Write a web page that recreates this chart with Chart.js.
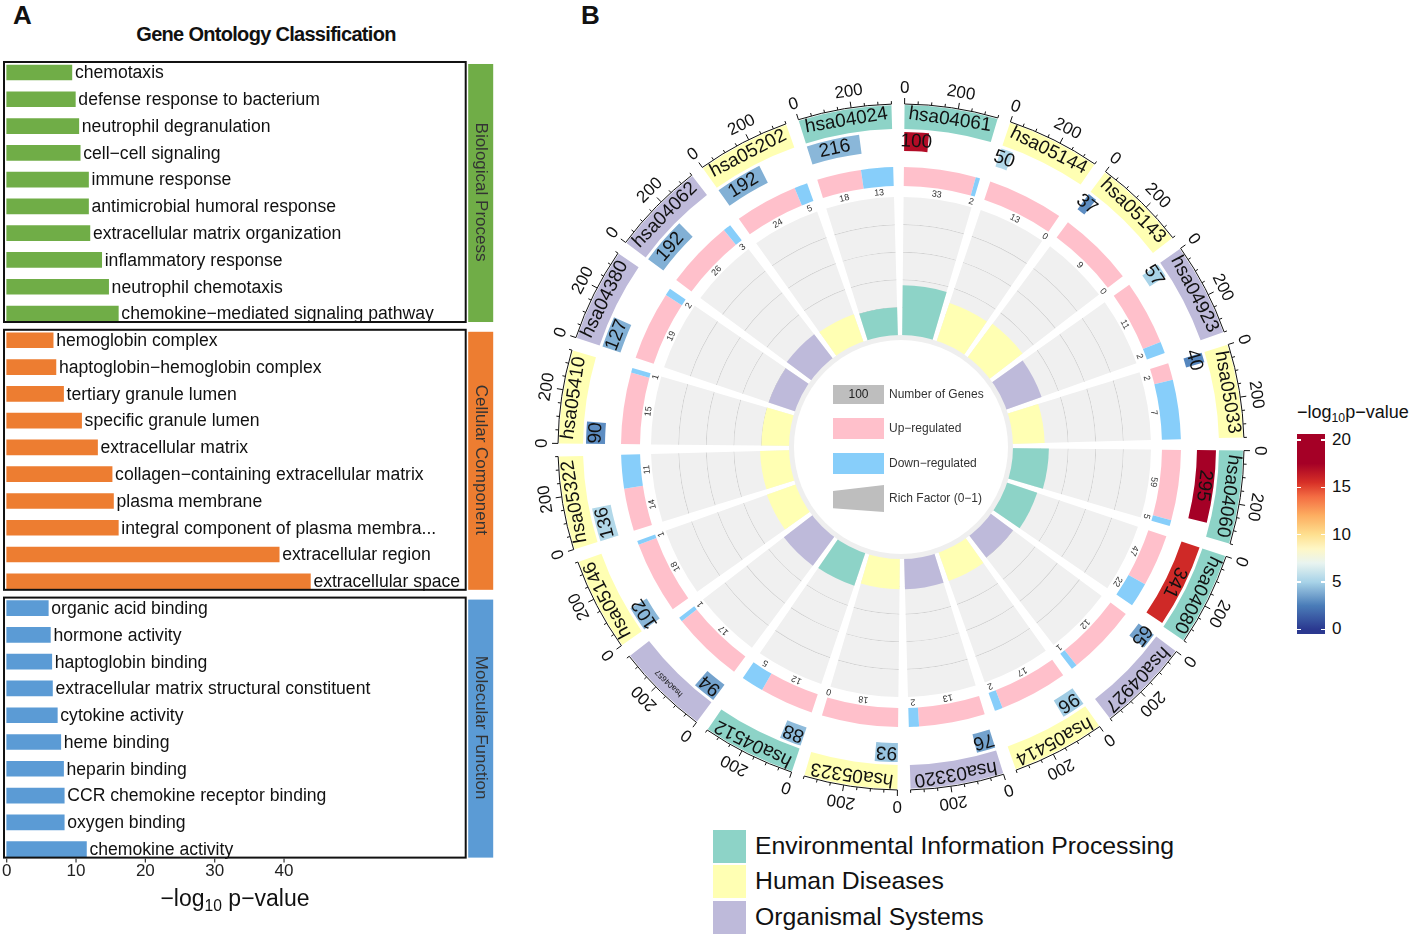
<!DOCTYPE html>
<html>
<head>
<meta charset="utf-8">
<title>GO classification and KEGG circle</title>
<script src="https://cdn.jsdelivr.net/npm/chart.js@4.4.1/dist/chart.umd.min.js"></script>
<style>
  body { margin: 0; background: #fff; font-family: "Liberation Sans", Arial, sans-serif; color: #111; }
  #page { position: relative; width: 1417px; height: 938px; overflow: hidden; }
  #page > * { position: absolute; }
  .tag { font-weight: bold; font-size: 26px; }
  #goTitle { left: 0; width: 532px; top: 23px; text-align: center; font-weight: bold; font-size: 20px; letter-spacing: -0.7px; }
  #goXTitle { left: 0; width: 470px; top: 885px; text-align: center; font-size: 23px; }
  sub { font-size: 0.68em; line-height: 0; vertical-align: -0.35em; }
  #hub { border-radius: 50%; background: #fff; box-sizing: border-box; border: 5px solid #efefef; }
  .key { width: 51px; }
  .keyText { font-size: 12px; color: #333; line-height: 14px; }
  .catBox { width: 33px; height: 33px; left: 713px; }
  .catText { left: 755px; font-size: 24.8px; line-height: 33px; }
  #cbTitle { left: 1297px; top: 402px; font-size: 18px; }
  .cbLab { left: 1332px; font-size: 17px; line-height: 18px; }
  .cbTick { width: 4px; height: 1.5px; background: #fff; }
</style>
</head>
<body>
<div id="page">
  <div class="tag" style="left:13px; top:0px">A</div>
  <div class="tag" style="left:581px; top:0px">B</div>
  <div id="goTitle">Gene Ontology Classification</div>
  <canvas id="goChart" width="500" height="900" style="left:0; top:0"></canvas>
  <div id="goXTitle">−log<sub>10</sub> p−value</div>

  <canvas id="ringChart" width="760" height="760" style="left:521px; top:67px"></canvas>
  <canvas id="richChart" width="500" height="500" style="left:651px; top:197px"></canvas>
  <div id="hub" style="left:789px; top:335px; width:224px; height:224px"></div>

  <div class="key" style="left:833px; top:385px; height:19px; background:#bebebe; font-size:12px; line-height:19px; text-align:center; color:#222">100</div>
  <div class="keyText" style="left:889px; top:387px">Number of Genes</div>
  <div class="key" style="left:833px; top:418px; height:21px; background:#ffc0cb"></div>
  <div class="keyText" style="left:889px; top:421px">Up−regulated</div>
  <div class="key" style="left:833px; top:453px; height:21px; background:#87cefa"></div>
  <div class="keyText" style="left:889px; top:456px">Down−regulated</div>
  <div class="key" style="left:833px; top:485px; height:27px; background:#bebebe; clip-path:polygon(0 22%, 100% 0, 100% 100%, 0 86%)"></div>
  <div class="keyText" style="left:889px; top:491px">Rich Factor (0−1)</div>

  <div id="cbTitle">−log<sub>10</sub>p−value</div>
  <div id="cbBar"></div>

  <div class="catBox" style="top:830px; background:#8dd3c7"></div>
  <div class="catText" style="top:829px">Environmental Information Processing</div>
  <div class="catBox" style="top:865px; background:#ffffb3"></div>
  <div class="catText" style="top:864px">Human Diseases</div>
  <div class="catBox" style="top:901px; background:#bebada"></div>
  <div class="catText" style="top:900px">Organismal Systems</div>
</div>

<script>
// ---------- panel A data (top to bottom) ----------
const goTerms = [
  "chemotaxis", "defense response to bacterium", "neutrophil degranulation", "cell−cell signaling",
  "immune response", "antimicrobial humoral response", "extracellular matrix organization",
  "inflammatory response", "neutrophil chemotaxis", "chemokine−mediated signaling pathway",
  "hemoglobin complex", "haptoglobin−hemoglobin complex", "tertiary granule lumen",
  "specific granule lumen", "extracellular matrix", "collagen−containing extracellular matrix",
  "plasma membrane", "integral component of plasma membra...", "extracellular region", "extracellular space",
  "organic acid binding", "hormone activity", "haptoglobin binding", "extracellular matrix structural constituent",
  "cytokine activity", "heme binding", "heparin binding", "CCR chemokine receptor binding",
  "oxygen binding", "chemokine activity"
];
const goLogP = [
  9.4, 9.9, 10.4, 10.6, 11.8, 11.8, 12.0, 13.7, 14.7, 16.1,
  6.7, 7.1, 8.2, 10.8, 13.1, 15.2, 15.4, 16.1, 39.3, 43.8,
  6.0, 6.3, 6.5, 6.6, 7.3, 7.8, 8.2, 8.3, 8.3, 11.5
];
const goGroups = ["Biological Process", "Cellular Component", "Molecular Function"];
const goTicks = [0, 10, 20, 30, 40];

// ---------- panel B data (clockwise from top) ----------
const keggIds = [
  "hsa04061", "hsa05144", "hsa05143", "hsa04923", "hsa05033", "hsa04060", "hsa04080",
  "hsa04927", "hsa05414", "hsa03320", "hsa05323", "hsa04512", "hsa04657", "hsa05146",
  "hsa05322", "hsa05410", "hsa04380", "hsa04062", "hsa05202", "hsa04024"
];
const keggClass = [
  "Environmental Information Processing", "Human Diseases", "Human Diseases", "Organismal Systems",
  "Human Diseases", "Environmental Information Processing", "Environmental Information Processing",
  "Organismal Systems", "Human Diseases", "Organismal Systems", "Human Diseases",
  "Environmental Information Processing", "Organismal Systems", "Human Diseases", "Human Diseases",
  "Human Diseases", "Organismal Systems", "Organismal Systems", "Human Diseases",
  "Environmental Information Processing"
];
const keggGenes = [100, 50, 37, 57, 40, 295, 341, 65, 96, 76, 93, 88, 94, 102, 136, 90, 127, 192, 192, 216];
const keggLogP = [17, 5.3, 3, 5, 2.8, 17.5, 15.8, 3.6, 4.8, 3.6, 4.6, 4.3, 3.6, 4.2, 5.3, 3, 4, 4, 4, 4.2];
const keggUp = [33, 13, 9, 11, 2, 59, 47, 12, 17, 13, 18, 12, 17, 18, 14, 15, 19, 26, 24, 18];
const keggDown = [2, 0, 0, 2, 7, 5, 22, 1, 2, 2, 0, 5, 1, 1, 11, 1, 2, 3, 5, 13];
const keggRich = [0.36, 0.29, 0.30, 0.27, 0.23, 0.26, 0.23, 0.20, 0.22, 0.22, 0.22, 0.25, 0.26, 0.22, 0.21, 0.20, 0.20, 0.22, 0.21, 0.20];
const geneAxisLabels = [0, 200];
const richTicks = [0.2, 0.4, 0.6, 0.8];
const colorbarTicks = [0, 5, 10, 15, 20];

// ---------- styling ----------
const FONT = '"Liberation Sans", Arial, sans-serif';
const CLEAR = "rgba(0,0,0,0)";
const goColors = ["#70ad47", "#ed7d31", "#5b9bd5"];
const classColors = {
  "Environmental Information Processing": "#8dd3c7",
  "Human Diseases": "#ffffb3",
  "Organismal Systems": "#bebada"
};
const pvalStops = [
  [0, "#2b3990"], [2.5, "#4a7cb8"], [5, "#a8d3e8"], [7, "#e9f4f0"], [8.5, "#fef7c6"],
  [10, "#fee090"], [12, "#fdae61"], [14, "#f46d43"], [15.5, "#d73027"], [17.5, "#a50026"], [20, "#a50026"]
];

function hexRgb(h) {
  return [1, 3, 5].map(k => parseInt(h.substr(k, 2), 16));
}
function pvalColor(v) {
  v = Math.max(0, Math.min(20, v));
  for (let k = 1; k < pvalStops.length; k++) {
    const [v1, c1] = pvalStops[k];
    if (v <= v1) {
      const [v0, c0] = pvalStops[k - 1];
      const t = (v - v0) / (v1 - v0);
      const a = hexRgb(c0), b = hexRgb(c1);
      return "rgb(" + a.map((x, j) => Math.round(x + (b[j] - x) * t)).join(",") + ")";
    }
  }
  return pvalStops[pvalStops.length - 1][1];
}

// ---------- panel A ----------
const goDecor = {
  id: "goDecor",
  afterDatasetsDraw(chart) {
    const { ctx, chartArea, scales } = chart;
    const bars = chart.getDatasetMeta(0).data;
    ctx.save();
    ctx.font = "17.6px " + FONT;
    ctx.fillStyle = "#111";
    ctx.textAlign = "left";
    ctx.textBaseline = "middle";
    bars.forEach((bar, i) => ctx.fillText(goTerms[i], bar.x + 3, bar.y + 1));

    let boxBottom = 0;
    goGroups.forEach((name, g) => {
      const top = scales.y.getPixelForValue(g * 10) - 10.5;
      const bottom = scales.y.getPixelForValue(g * 10 + 9) + 8.5;
      const left = chartArea.left - 2.7;
      boxBottom = bottom;
      ctx.strokeStyle = "#111";
      ctx.lineWidth = 2;
      ctx.strokeRect(left, top, chartArea.right - left, bottom - top);
      ctx.fillStyle = goColors[g];
      ctx.fillRect(chartArea.right + 2.5, top + 2, 25, bottom - top - 2);
      ctx.save();
      ctx.translate(chartArea.right + 15, (top + bottom) / 2);
      ctx.rotate(Math.PI / 2);
      ctx.fillStyle = "#333";
      ctx.font = "17px " + FONT;
      ctx.textAlign = "center";
      ctx.fillText(name, 0, 0);
      ctx.restore();
    });

    // x tick marks just under the last panel
    ctx.strokeStyle = "#333";
    ctx.lineWidth = 1.2;
    goTicks.forEach(v => {
      const px = scales.x.getPixelForValue(v);
      ctx.beginPath();
      ctx.moveTo(px, boxBottom + 1);
      ctx.lineTo(px, boxBottom + 5);
      ctx.stroke();
    });
    ctx.restore();
  }
};

new Chart(document.getElementById("goChart"), {
  type: "bar",
  data: {
    labels: goTerms,
    datasets: [{
      data: goLogP,
      backgroundColor: goTerms.map((t, i) => goColors[Math.floor(i / 10)]),
      barThickness: 15,
      clip: false
    }]
  },
  options: {
    indexAxis: "y",
    responsive: false,
    animation: false,
    events: [],
    layout: { padding: { top: 59.1, bottom: 7.5, left: 6.7, right: 34.3 } },
    plugins: { legend: { display: false }, tooltip: { enabled: false } },
    scales: {
      x: {
        min: 0,
        max: 66.2,
        afterFit: s => { s.height = 30; },
        border: { display: false },
        grid: { display: false, drawTicks: false },
        ticks: {
          stepSize: 10,
          padding: -1,
          color: "#222",
          font: { size: 17, family: FONT },
          callback: v => (goTicks.includes(v) ? v : "")
        }
      },
      y: { display: false }
    }
  },
  plugins: [goDecor]
});

// ---------- panel B: rings ----------
const N = keggIds.length;
const SECTOR_DEG = 360 / N;
const GAP_DEG = 2.2;
const ROT = 0.6;
const AXIS_MAX = 350;
const GAP = AXIS_MAX * GAP_DEG / (SECTOR_DEG - GAP_DEG);
const R_OUT = 342, R_IN = 106, R_RICH0 = 112, R_RICH1 = 250;
const W_BAND = 24, W_SP1 = 3, W_GENE = 19, W_SP2 = 16, W_UD = 19;

function ring(weight, perSector) {
  const data = [], colors = [];
  for (let i = 0; i < N; i++) {
    perSector(i).forEach(([v, c]) => { data.push(v); colors.push(c); });
    data.push(GAP);
    colors.push(CLEAR);
  }
  return { data, backgroundColor: colors, weight };
}
const blank = () => [[AXIS_MAX, CLEAR]];

const ringSets = [];
const RING = {};
RING.band = ringSets.push(ring(W_BAND, i => [[AXIS_MAX, classColors[keggClass[i]]]])) - 1;
ringSets.push(ring(W_SP1, blank));
RING.genes = ringSets.push(ring(W_GENE, i => [
  [keggGenes[i], pvalColor(keggLogP[i])],
  [AXIS_MAX - keggGenes[i], CLEAR]
])) - 1;
ringSets.push(ring(W_SP2, blank));
RING.updown = ringSets.push(ring(W_UD, i => {
  const tot = keggUp[i] + keggDown[i];
  return [[AXIS_MAX * keggUp[i] / tot, "#ffc0cb"], [AXIS_MAX * keggDown[i] / tot, "#87cefa"]];
})) - 1;
ringSets.push(ring(R_OUT - W_BAND - W_SP1 - W_GENE - W_SP2 - W_UD - R_RICH1, blank));

// grey rich-factor background with grid rings
let rEdge = R_RICH1;
richTicks.slice().reverse().forEach(t => {
  const rl = R_RICH0 + (R_RICH1 - R_RICH0) * t;
  ringSets.push(ring(rEdge - (rl + 0.5), () => [[AXIS_MAX, "#f0f0f0"]]));
  ringSets.push(ring(1, () => [[AXIS_MAX, "#d2d2d2"]]));
  rEdge = rl - 0.5;
});
ringSets.push(ring(rEdge - R_IN, () => [[AXIS_MAX, "#f0f0f0"]]));

function tangentText(ctx, text, cx, cy, angle, r, font) {
  ctx.save();
  ctx.translate(cx + r * Math.cos(angle), cy + r * Math.sin(angle));
  ctx.rotate(angle + Math.PI / 2);
  ctx.font = font;
  ctx.textAlign = "center";
  ctx.textBaseline = "middle";
  ctx.fillText(text, 0, 0);
  ctx.restore();
}
const mid = a => (a.startAngle + a.endAngle) / 2;

const ringLabels = {
  id: "ringLabels",
  afterDatasetsDraw(chart) {
    const ctx = chart.ctx;
    const band = chart.getDatasetMeta(RING.band).data;
    const genes = chart.getDatasetMeta(RING.genes).data;
    const ud = chart.getDatasetMeta(RING.updown).data;
    ctx.save();
    ctx.fillStyle = "#111";
    ctx.strokeStyle = "#111";
    ctx.lineWidth = 1;
    keggIds.forEach((id, i) => {
      const arc = band[i * 2];
      const { x, y, startAngle, endAngle, innerRadius, outerRadius } = arc;
      const span = endAngle - startAngle;
      const idFont = (id === "hsa04657" ? "8px " : "19px ") + FONT;
      tangentText(ctx, id, x, y, mid(arc), (innerRadius + outerRadius) / 2 + 1, idFont);

      // gene-count axis on the outer edge
      const rA = outerRadius + 1;
      ctx.beginPath();
      ctx.arc(x, y, rA, startAngle, endAngle);
      ctx.stroke();
      for (let v = 0; v <= AXIS_MAX; v += 50) {
        const a = startAngle + span * v / AXIS_MAX;
        const len = geneAxisLabels.includes(v) ? 6 : 3;
        ctx.beginPath();
        ctx.moveTo(x + rA * Math.cos(a), y + rA * Math.sin(a));
        ctx.lineTo(x + (rA + len) * Math.cos(a), y + (rA + len) * Math.sin(a));
        ctx.stroke();
      }
      geneAxisLabels.forEach(v => {
        tangentText(ctx, String(v), x, y, startAngle + span * v / AXIS_MAX, rA + 16, "17px " + FONT);
      });

      const g = genes[i * 3];
      tangentText(ctx, String(keggGenes[i]), x, y, mid(g), (g.innerRadius + g.outerRadius) / 2, "19px " + FONT);

      const up = ud[i * 3], dn = ud[i * 3 + 1];
      ctx.fillStyle = "#333";
      tangentText(ctx, String(keggUp[i]), x, y, mid(up), up.innerRadius - 6, "9px " + FONT);
      tangentText(ctx, String(keggDown[i]), x, y, mid(dn), dn.innerRadius - 6, "9px " + FONT);
      ctx.fillStyle = "#111";
    });
    ctx.restore();
  }
};

new Chart(document.getElementById("ringChart"), {
  type: "doughnut",
  data: { labels: ringSets[0].data.map((d, i) => i), datasets: ringSets },
  options: {
    responsive: false,
    animation: false,
    events: [],
    rotation: ROT,
    radius: R_OUT,
    cutout: (R_IN / R_OUT * 100) + "%",
    elements: { arc: { borderWidth: 0 } },
    plugins: { legend: { display: false }, tooltip: { enabled: false } }
  },
  plugins: [ringLabels]
});

// ---------- panel B: rich factor bars ----------
const richData = [], richColors = [], richAngles = [];
const RICH_MIN = -R_RICH0 / (R_RICH1 - R_RICH0);
keggRich.forEach((v, i) => {
  richData.push(v, RICH_MIN);
  richColors.push(classColors[keggClass[i]], CLEAR);
  richAngles.push(SECTOR_DEG - GAP_DEG, GAP_DEG);
});

new Chart(document.getElementById("richChart"), {
  type: "polarArea",
  data: {
    labels: richData.map((d, i) => i),
    datasets: [{ data: richData, backgroundColor: richColors, angle: richAngles, borderWidth: 0 }]
  },
  options: {
    responsive: false,
    animation: false,
    events: [],
    plugins: { legend: { display: false }, tooltip: { enabled: false } },
    scales: {
      r: {
        min: RICH_MIN,
        max: 1,
        startAngle: ROT,
        ticks: { display: false },
        grid: { display: false },
        angleLines: { display: false },
        pointLabels: { display: false }
      }
    }
  }
});

// ---------- colour bar ----------
const CB_TOP = 434, CB_H = 200, CB_LEFT = 1297, CB_W = 28, CB_Y0 = 629.3, CB_PX = 9.465;
const vTop = (CB_Y0 - CB_TOP) / CB_PX, vBot = (CB_Y0 - CB_TOP - CB_H) / CB_PX;
const cb = document.getElementById("cbBar");
const grad = [];
for (let v = vBot; v <= vTop + 0.01; v += 0.5) {
  grad.push(pvalColor(v) + " " + ((v - vBot) / (vTop - vBot) * 100).toFixed(1) + "%");
}
Object.assign(cb.style, {
  left: CB_LEFT + "px", top: CB_TOP + "px", width: CB_W + "px", height: CB_H + "px",
  background: "linear-gradient(to top, " + grad.join(", ") + ")"
});
const page = document.getElementById("page");
colorbarTicks.forEach(v => {
  const y = CB_Y0 - v * CB_PX;
  const lab = document.createElement("div");
  lab.className = "cbLab";
  lab.textContent = v;
  lab.style.top = (y - 9) + "px";
  page.appendChild(lab);
  [CB_LEFT, CB_LEFT + CB_W - 4].forEach(x => {
    const t = document.createElement("div");
    t.className = "cbTick";
    t.style.left = x + "px";
    t.style.top = (y - 0.75) + "px";
    page.appendChild(t);
  });
});
</script>
</body>
</html>
